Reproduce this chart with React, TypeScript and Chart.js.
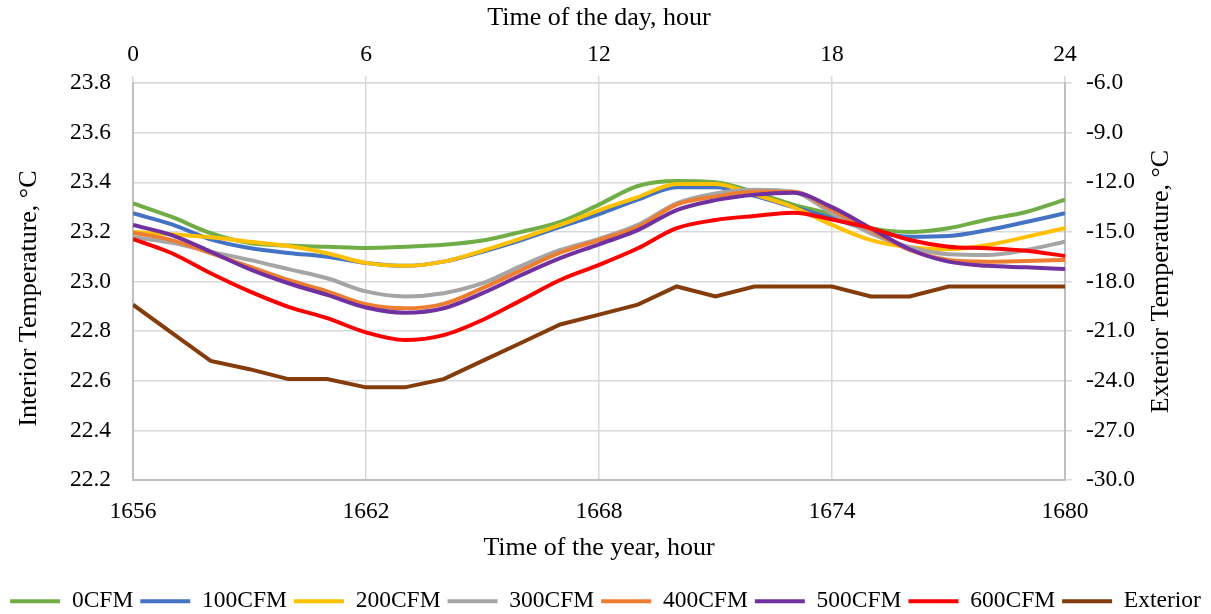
import { useEffect, useRef } from "react";
import { Chart, registerables } from "chart.js";

Chart.register(...registerables);

// Hour of the year (x) and hourly readings for each ventilation rate
const HOURS = [1656, 1657, 1658, 1659, 1660, 1661, 1662, 1663, 1664, 1665, 1666, 1667, 1668, 1669, 1670, 1671, 1672, 1673, 1674, 1675, 1676, 1677, 1678, 1679, 1680];

const CFM0 = [23.315, 23.26, 23.195, 23.155, 23.145, 23.14, 23.135, 23.14, 23.148, 23.165, 23.2, 23.24, 23.31, 23.385, 23.405, 23.4, 23.36, 23.31, 23.27, 23.215, 23.2, 23.215, 23.25, 23.28, 23.33];
const CFM100 = [23.275, 23.23, 23.17, 23.135, 23.115, 23.1, 23.075, 23.063, 23.08, 23.12, 23.167, 23.22, 23.272, 23.33, 23.38, 23.38, 23.345, 23.3, 23.255, 23.207, 23.18, 23.183, 23.207, 23.24, 23.275];
const CFM200 = [23.2, 23.19, 23.178, 23.16, 23.143, 23.114, 23.075, 23.063, 23.08, 23.124, 23.174, 23.228, 23.287, 23.34, 23.393, 23.393, 23.35, 23.3, 23.228, 23.167, 23.138, 23.13, 23.147, 23.18, 23.215];
const CFM300 = [23.178, 23.156, 23.12, 23.087, 23.05, 23.013, 22.96, 22.94, 22.953, 22.993, 23.063, 23.127, 23.172, 23.228, 23.315, 23.355, 23.37, 23.362, 23.275, 23.194, 23.138, 23.11, 23.107, 23.127, 23.16];
const CFM400 = [23.197, 23.167, 23.114, 23.06, 23.006, 22.96, 22.908, 22.892, 22.91, 22.973, 23.046, 23.116, 23.167, 23.22, 23.31, 23.342, 23.362, 23.362, 23.288, 23.207, 23.127, 23.087, 23.08, 23.083, 23.087];
const CFM500 = [23.228, 23.187, 23.12, 23.05, 22.993, 22.946, 22.895, 22.874, 22.892, 22.953, 23.026, 23.094, 23.15, 23.207, 23.288, 23.328, 23.35, 23.358, 23.3, 23.215, 23.13, 23.08, 23.063, 23.057, 23.05];
const CFM600 = [23.171, 23.114, 23.033, 22.96, 22.898, 22.852, 22.795, 22.764, 22.784, 22.845, 22.925, 23.006, 23.067, 23.134, 23.215, 23.248, 23.264, 23.277, 23.25, 23.215, 23.167, 23.14, 23.134, 23.124, 23.103];
const EXTERIOR = [-19.4, -21.1, -22.8, -23.3, -23.9, -23.9, -24.4, -24.4, -23.9, -22.8, -21.7, -20.6, -20.0, -19.4, -18.3, -18.9, -18.3, -18.3, -18.3, -18.9, -18.9, -18.3, -18.3, -18.3, -18.3];

const SERIES_NAMES = ["0CFM", "100CFM", "200CFM", "300CFM", "400CFM", "500CFM", "600CFM", "Exterior"];
const SERIES_VALUES = [CFM0, CFM100, CFM200, CFM300, CFM400, CFM500, CFM600, EXTERIOR];
const SERIES_COLORS = ["#70ad47", "#4472c4", "#ffc000", "#a5a5a5", "#ed7d31", "#7030a0", "#ff0000", "#843c0c"];

const LEFT_TITLE = "Interior Temperature, \u00b0C";
const RIGHT_TITLE = "Exterior Temperature, \u00b0C";
const TOP_TITLE = "Time of the day, hour";
const BOTTOM_TITLE = "Time of the year, hour";

const FONT = "'Liberation Serif', 'Times New Roman', serif";
const TICK_SIZE = 23.5;
const TITLE_SIZE = 26;
const GRID = "#d9d9d9";
const AXIS = "#bfbfbf";

// Both vertical titles read bottom-to-top, so they are painted here
const sideTitles = {
  id: "sideTitles",
  afterDraw(chart: any) {
    const { ctx, chartArea } = chart;
    const mid = (chartArea.top + chartArea.bottom) / 2;
    ctx.save();
    ctx.font = `${TITLE_SIZE}px ${FONT}`;
    ctx.fillStyle = "#000";
    ctx.textAlign = "center";
    ctx.textBaseline = "middle";
    const put = (text: string, x: number, y: number) => {
      ctx.save();
      ctx.translate(x, y);
      ctx.rotate(-Math.PI / 2);
      ctx.fillText(text, 0, 0);
      ctx.restore();
    };
    put(LEFT_TITLE, chart.scales.y.left + 29, mid + 17);
    put(RIGHT_TITLE, chart.scales.y2.right - 50, mid);
    ctx.restore();
  },
};

const plain = (v: any) => String(v);
const oneDecimal = (v: any) => Number(v).toFixed(1);

export default function App() {
  const canvasRef = useRef<HTMLCanvasElement | null>(null);

  useEffect(() => {
    if (!canvasRef.current) return;
    const datasets = SERIES_NAMES.map((name, i) => {
      const isExt = name === "Exterior";
      return {
        label: name,
        data: HOURS.map((h, k) => ({ x: h, y: SERIES_VALUES[i][k] })),
        borderColor: SERIES_COLORS[i],
        backgroundColor: SERIES_COLORS[i],
        borderWidth: 4,
        pointRadius: 0,
        pointHoverRadius: 0,
        fill: false,
        yAxisID: isExt ? "y2" : "y",
        xAxisID: "x",
        tension: 0,
        cubicInterpolationMode: isExt ? "default" : "monotone",
        order: SERIES_NAMES.length - 1 - i,
      };
    });

    const chart = new Chart(canvasRef.current, {
      type: "line",
      data: { datasets } as any,
      plugins: [sideTitles],
      options: {
        responsive: true,
        maintainAspectRatio: false,
        animation: false,
        layout: { padding: { left: 0, right: 0, top: 0, bottom: -9 } },
        plugins: {
          tooltip: { enabled: false },
          legend: {
            position: "bottom",
            labels: {
              usePointStyle: true,
              pointStyle: "line",
              pointStyleWidth: 50,
              padding: 7,
              color: "#000",
              font: { family: FONT, size: TICK_SIZE },
              sort: (a: any, b: any) => a.datasetIndex - b.datasetIndex,
            },
          },
        },
        scales: {
          x: {
            type: "linear",
            position: "bottom",
            min: 1656,
            max: 1680,
            afterFit: (s: any) => { s.height = 102.5; },
            ticks: { stepSize: 6, padding: 18, color: "#000", font: { family: FONT, size: TICK_SIZE }, callback: plain },
            grid: { color: GRID, lineWidth: 1.5, drawTicks: false },
            border: { color: AXIS, width: 2 },
            title: { display: true, text: BOTTOM_TITLE, color: "#000", font: { family: FONT, size: TITLE_SIZE }, padding: { top: 0, bottom: 19 } },
          },
          x2: {
            type: "linear",
            position: "top",
            min: 0,
            max: 24,
            afterFit: (s: any) => { s.height = 83; },
            ticks: { stepSize: 6, padding: 7, color: "#000", font: { family: FONT, size: TICK_SIZE }, callback: plain },
            grid: { drawOnChartArea: false, drawTicks: true, tickLength: 7, color: GRID, lineWidth: 1.5 },
            border: { color: GRID, width: 1.5 },
            title: { display: true, text: TOP_TITLE, color: "#000", font: { family: FONT, size: TITLE_SIZE }, padding: { top: 3, bottom: 0 } },
          },
          y: {
            type: "linear",
            position: "left",
            min: 22.2,
            max: 23.8,
            afterFit: (s: any) => { s.width = 133; },
            ticks: { stepSize: 0.2, padding: 22, color: "#000", font: { family: FONT, size: TICK_SIZE }, callback: oneDecimal },
            grid: { color: GRID, lineWidth: 1.5, drawTicks: false },
            border: { color: AXIS, width: 2 },
          },
          y2: {
            type: "linear",
            position: "right",
            min: -30,
            max: -6,
            afterFit: (s: any) => { s.width = 146; },
            ticks: { stepSize: 3, padding: 14, color: "#000", font: { family: FONT, size: TICK_SIZE }, callback: oneDecimal },
            grid: { drawOnChartArea: false, drawTicks: true, tickLength: 7, color: GRID, lineWidth: 1.5 },
            border: { color: AXIS, width: 2 },
          },
        },
      } as any,
    });
    return () => chart.destroy();
  }, []);

  return (
    <div style={{ position: "fixed", left: 0, top: 0, width: 1211, height: 614, background: "#fff" }}>
      <canvas ref={canvasRef} />
    </div>
  );
}
